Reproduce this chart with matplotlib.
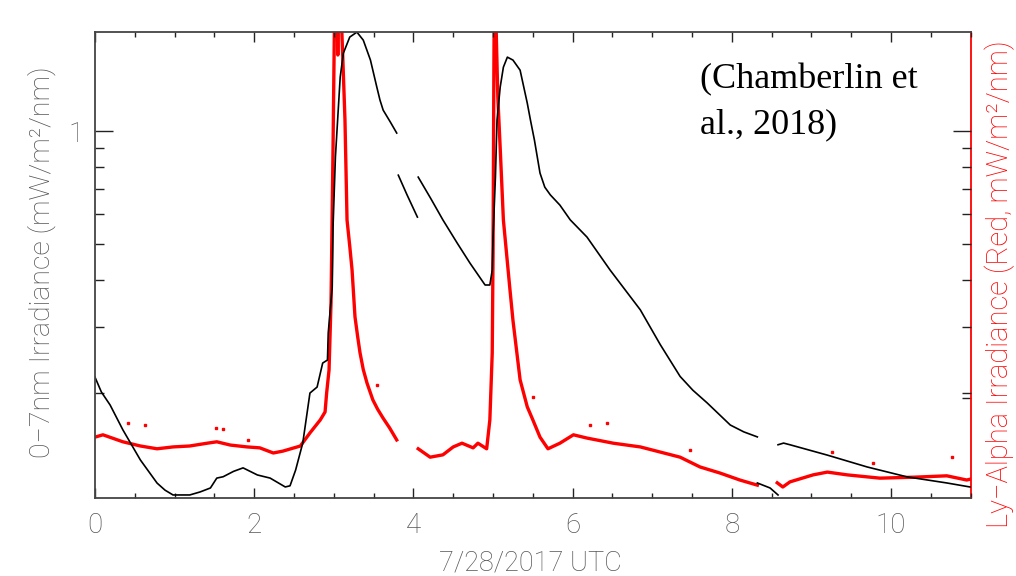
import numpy as np
import matplotlib.pyplot as plt
from matplotlib.ticker import FixedLocator, MultipleLocator, NullFormatter

#====================================================
# Data
#====================================================

# 0-7 nm irradiance (black, left log axis), split where the record has gaps
bx1 = [0.00, 0.08, 0.19, 0.35, 0.57, 0.78, 0.88, 0.98, 1.19, 1.32, 1.45, 1.53,
       1.61, 1.74, 1.86, 2.04, 2.20, 2.39, 2.45, 2.52, 2.61, 2.70, 2.79, 2.86,
       2.92, 2.93, 2.98, 2.99, 3.02, 3.08, 3.12, 3.20, 3.29, 3.37, 3.46, 3.54,
       3.58, 3.62, 3.71, 3.79]
by1 = [0.221, 0.2018, 0.1863, 0.160, 0.133, 0.1154, 0.1105, 0.1073, 0.1073,
       0.1093, 0.112, 0.119, 0.120, 0.124, 0.1267, 0.1213, 0.119, 0.1127,
       0.1135, 0.125, 0.1476, 0.2005, 0.208, 0.241, 0.2455, 0.290, 0.384, 0.555,
       0.853, 1.392, 1.613, 1.78, 1.835, 1.747, 1.546, 1.31, 1.209, 1.137,
       1.057, 0.988]
bx2 = [3.81, 3.92, 4.05]
by2 = [0.763, 0.676, 0.590]
bx3 = [4.06, 4.22, 4.37, 4.55, 4.71, 4.90, 4.96, 4.99, 5.00, 5.03, 5.05, 5.09,
       5.13, 5.18, 5.25, 5.34, 5.43, 5.47, 5.52, 5.59, 5.65, 5.72, 5.84, 5.97,
       6.18, 6.47, 6.85, 7.10, 7.35, 7.51, 7.69, 7.98, 8.15, 8.32]
by3 = [0.754, 0.660, 0.580, 0.503, 0.445, 0.389, 0.389, 0.4265, 0.522, 0.754,
       1.070, 1.31, 1.48, 1.574, 1.546, 1.453, 1.187, 1.07, 0.946, 0.773, 0.709,
       0.676, 0.635, 0.580, 0.522, 0.4265, 0.334, 0.270, 0.222, 0.204, 0.1887,
       0.1648, 0.158, 0.1532]
bx4 = [8.32, 8.48, 8.58]
by4 = [0.1155, 0.112, 0.1073]
bx5 = [8.58, 8.65, 8.73, 9.20, 9.70, 10.20, 10.70, 10.99]
by5 = [0.146, 0.1475, 0.146, 0.137, 0.1274, 0.1199, 0.1155, 0.1127]

# Ly-alpha irradiance (red, right axis)
rx1 = [0.00, 0.10, 0.35, 0.57, 0.78, 0.98, 1.19, 1.41, 1.53, 1.70, 1.91, 2.07,
       2.24, 2.36, 2.58, 2.70, 2.83, 2.89, 2.91, 2.94, 2.965, 2.99, 3.01, 3.03,
       3.05, 3.065, 3.09, 3.115, 3.14, 3.166, 3.20, 3.229, 3.266, 3.30, 3.329,
       3.37, 3.417, 3.49, 3.55, 3.618, 3.70, 3.79]
ry1 = [6.130, 6.135, 6.120, 6.111, 6.105, 6.109, 6.111, 6.117, 6.120, 6.113,
       6.109, 6.107, 6.096, 6.100, 6.111, 6.139, 6.167, 6.184, 6.225, 6.274,
       6.42, 6.75, 7.05, 7.3, 6.95, 7.2, 7.05, 6.933, 6.811, 6.596, 6.540,
       6.489, 6.388, 6.345, 6.311, 6.275, 6.246, 6.210, 6.190, 6.171, 6.150,
       6.124]
rx2 = [4.06, 4.21, 4.37, 4.50, 4.61, 4.75, 4.81, 4.92, 4.96, 4.99, 5.00, 5.01,
       5.02, 5.04, 5.06, 5.09, 5.13, 5.21, 5.25, 5.34, 5.43, 5.50, 5.59, 5.69,
       5.84, 6.01, 6.18, 6.51, 6.85, 7.35, 7.60, 7.85, 8.10, 8.32]
ry2 = [6.105, 6.087, 6.092, 6.109, 6.117, 6.107, 6.117, 6.105, 6.167, 6.311,
       6.523, 6.9, 7.2, 7.0, 6.86, 6.75, 6.596, 6.451, 6.381, 6.253, 6.195,
       6.167, 6.130, 6.105, 6.117, 6.135, 6.128, 6.117, 6.109, 6.087, 6.066,
       6.053, 6.038, 6.027]
rx3 = [8.57, 8.64, 8.73, 9.02, 9.20, 9.45, 9.86, 10.28, 10.70, 10.95, 11.0]
ry3 = [6.032, 6.023, 6.034, 6.049, 6.055, 6.049, 6.042, 6.044, 6.047, 6.038, 6.040]
# isolated red samples off the main band
rdot_x = [0.41, 0.63, 1.52, 1.61, 1.92, 3.54, 5.50, 6.22, 6.43, 7.47, 9.26, 9.77, 10.77]
rdot_y = [6.160, 6.156, 6.150, 6.147, 6.124, 6.242, 6.216, 6.156, 6.160, 6.102,
          6.098, 6.075, 6.087]

x_ticks = [0, 2, 4, 6, 8, 10]
y_minor = [0.2, 0.3, 0.4, 0.5, 0.6, 0.7, 0.8, 0.9]

#====================================================
# Plot
#====================================================

gray = '#555555'
plt.rcParams['font.family'] = ['Roboto', 'DejaVu Sans']
plt.rcParams['font.weight'] = 'light'

fig = plt.figure(figsize=(10.16, 5.76), dpi=100)
ax = fig.add_axes([0.0935, 0.1359, 0.8619, 0.8091])
ax2 = ax.twinx()
ax.set_zorder(ax2.get_zorder() + 1)
ax.patch.set_visible(False)

for xs, ys in [(rx1, ry1), (rx2, ry2), (rx3, ry3)]:
    ax2.plot(xs, ys, color='red', lw=2.4)
ax2.plot(rdot_x, rdot_y, ls='none', marker='s', ms=1.5, color='red')
ax2.set_ylim(6.0, 7.0)
ax2.set_yticks([6.214])
ax2.set_yticklabels([''])
ax2.tick_params(axis='y', direction='in', length=6.5, width=1, color='#222222')

for xs, ys in [(bx1, by1), (bx2, by2), (bx3, by3), (bx4, by4), (bx5, by5)]:
    ax.plot(xs, ys, color='black', lw=1.2)

ax.set_yscale('log')
ax.set_xlim(0, 11)
ax.set_ylim(0.1055, 1.84)
ax.set_xticks(x_ticks)
ax.xaxis.set_minor_locator(MultipleLocator(0.5))
ax.yaxis.set_major_locator(FixedLocator([1]))
ax.set_yticklabels(['1'])
ax.yaxis.set_minor_locator(FixedLocator(y_minor))
ax.yaxis.set_minor_formatter(NullFormatter())

ax.tick_params(axis='x', which='major', direction='in', length=7.2, width=1,
               top=True, labelsize=20, labelcolor=gray, pad=10, color='#222222')
ax.tick_params(axis='x', which='minor', direction='in', length=3.6, width=1,
               top=True, color='#222222')
ax.tick_params(axis='y', which='major', direction='in', length=13, width=1,
               right=True, labelsize=20, labelcolor=gray, pad=8, color='#222222')
ax.tick_params(axis='y', which='minor', direction='in', length=6.5, width=1,
               right=True, color='#222222')

for side in ['left', 'bottom', 'top']:
    ax.spines[side].set_color('#444444')
    ax.spines[side].set_linewidth(1.3)
ax.spines['right'].set_visible(False)
for side in ['left', 'bottom', 'top']:
    ax2.spines[side].set_visible(False)
ax2.spines['right'].set_color('red')
ax2.spines['right'].set_linewidth(1.3)

fig.text(42 / 1016, 1 - 262 / 576, '0\u22127nm Irradiance (mW/m\u00b2/nm)',
         rotation=90, ha='center', va='center', color=gray, fontsize=20.5)
fig.text(1000 / 1016, 1 - 284 / 576, 'Ly\u2212Alpha Irradiance (Red, mW/m\u00b2/nm)',
         rotation=90, ha='center', va='center', color='red', fontsize=21)
fig.text(530 / 1016, 1 - 563 / 576, '7/28/2017 UTC', ha='center', va='center',
         color=gray, fontsize=19.5)

fig.text(700 / 1016, 1 - 88 / 576, '(Chamberlin et', family='Liberation Serif',
         fontsize=26, va='baseline', ha='left', color='black', weight='normal')
fig.text(700 / 1016, 1 - 133 / 576, 'al., 2018)', family='Liberation Serif',
         fontsize=26, va='baseline', ha='left', color='black', weight='normal')

fig.savefig('out.png', dpi=100)
